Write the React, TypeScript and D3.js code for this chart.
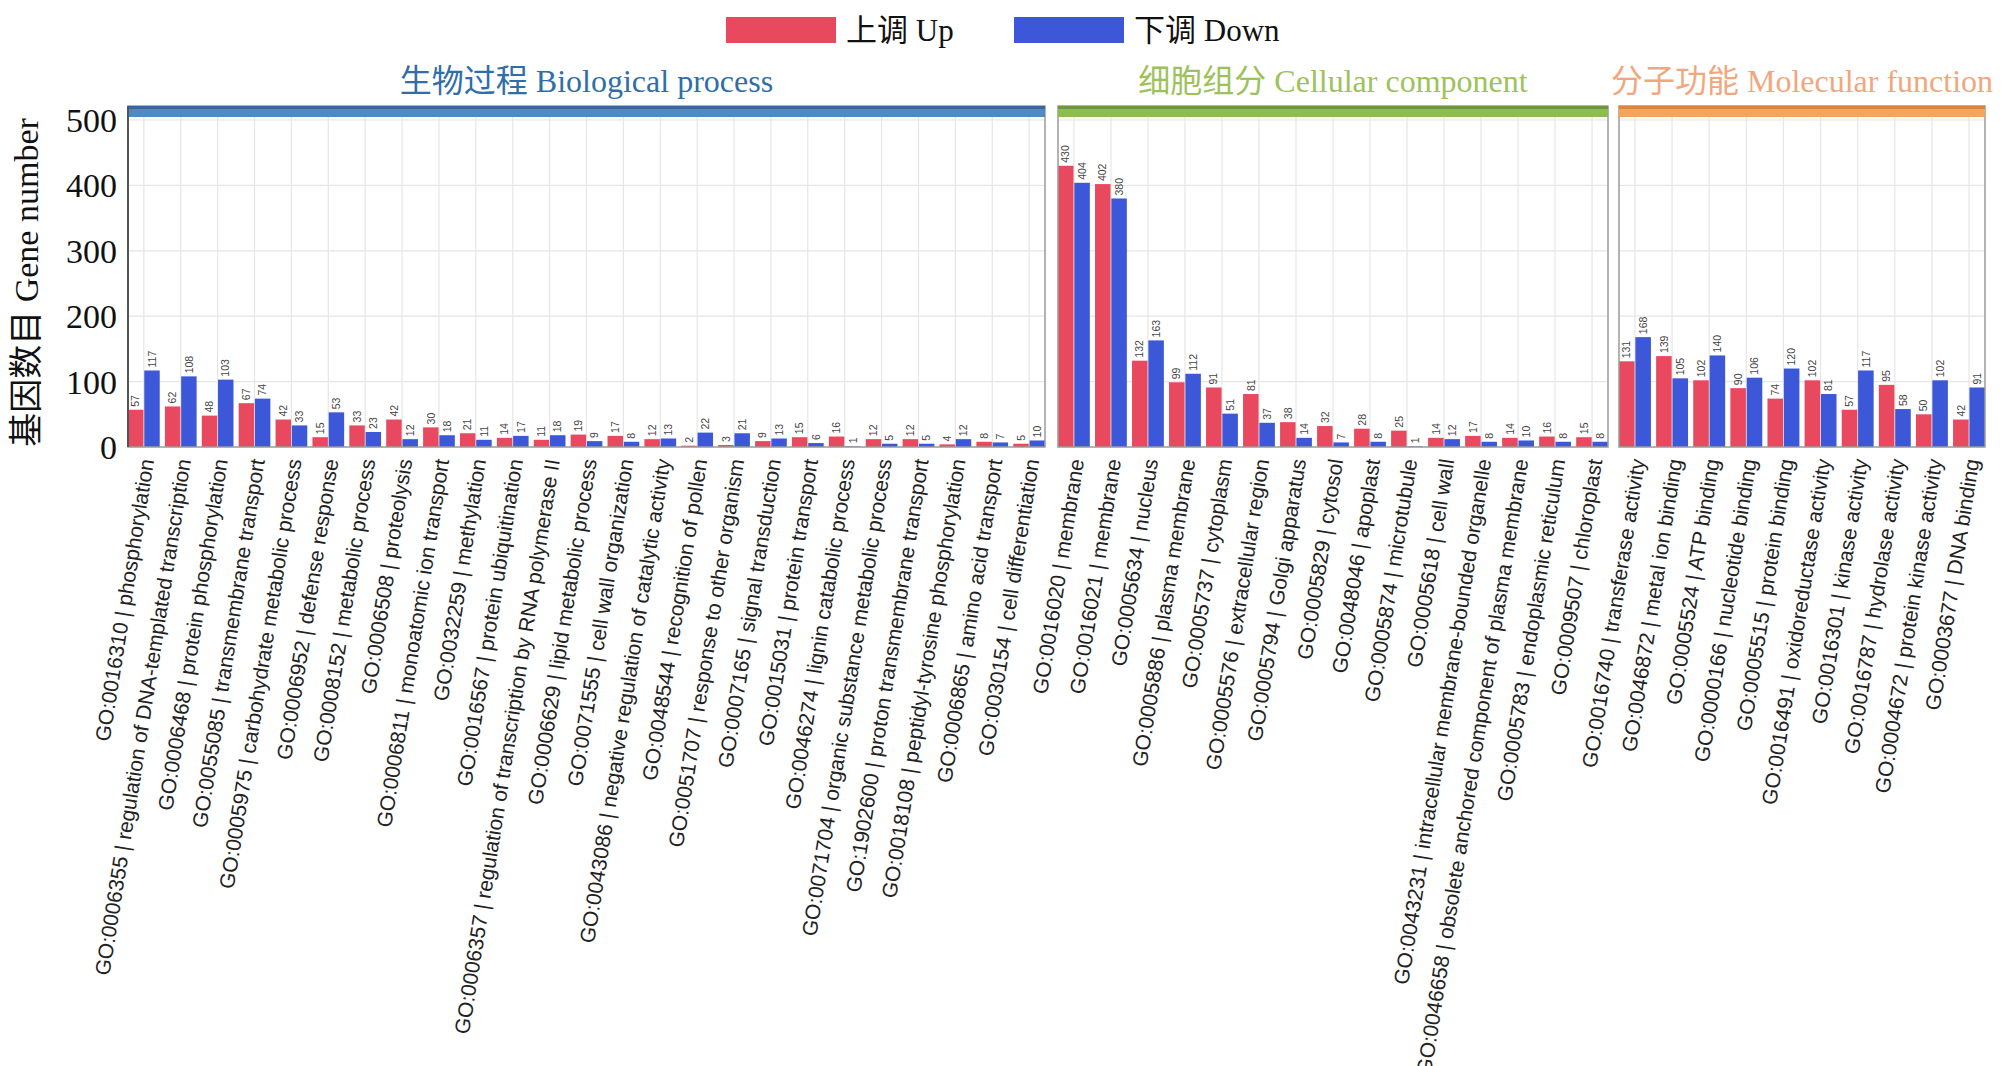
import * as d3 from "d3";

// ---- data ----
const bpTerms = [
  "GO:0016310 | phosphorylation",
  "GO:0006355 | regulation of DNA-templated transcription",
  "GO:0006468 | protein phosphorylation",
  "GO:0055085 | transmembrane transport",
  "GO:0005975 | carbohydrate metabolic process",
  "GO:0006952 | defense response",
  "GO:0008152 | metabolic process",
  "GO:0006508 | proteolysis",
  "GO:0006811 | monoatomic ion transport",
  "GO:0032259 | methylation",
  "GO:0016567 | protein ubiquitination",
  "GO:0006357 | regulation of transcription by RNA polymerase II",
  "GO:0006629 | lipid metabolic process",
  "GO:0071555 | cell wall organization",
  "GO:0043086 | negative regulation of catalytic activity",
  "GO:0048544 | recognition of pollen",
  "GO:0051707 | response to other organism",
  "GO:0007165 | signal transduction",
  "GO:0015031 | protein transport",
  "GO:0046274 | lignin catabolic process",
  "GO:0071704 | organic substance metabolic process",
  "GO:1902600 | proton transmembrane transport",
  "GO:0018108 | peptidyl-tyrosine phosphorylation",
  "GO:0006865 | amino acid transport",
  "GO:0030154 | cell differentiation",
];
const bpUp = [57, 62, 48, 67, 42, 15, 33, 42, 30, 21, 14, 11, 19, 17, 12, 2, 3, 9, 15, 16, 12, 12, 4, 8, 5];
const bpDown = [117, 108, 103, 74, 33, 53, 23, 12, 18, 11, 17, 18, 9, 8, 13, 22, 21, 13, 6, 1, 5, 5, 12, 7, 10];

const ccTerms = [
  "GO:0016020 | membrane",
  "GO:0016021 | membrane",
  "GO:0005634 | nucleus",
  "GO:0005886 | plasma membrane",
  "GO:0005737 | cytoplasm",
  "GO:0005576 | extracellular region",
  "GO:0005794 | Golgi apparatus",
  "GO:0005829 | cytosol",
  "GO:0048046 | apoplast",
  "GO:0005874 | microtubule",
  "GO:0005618 | cell wall",
  "GO:0043231 | intracellular membrane-bounded organelle",
  "GO:0046658 | obsolete anchored component of plasma membrane",
  "GO:0005783 | endoplasmic reticulum",
  "GO:0009507 | chloroplast",
];
const ccUp = [430, 402, 132, 99, 91, 81, 38, 32, 28, 25, 14, 17, 14, 16, 15];
const ccDown = [404, 380, 163, 112, 51, 37, 14, 7, 8, 1, 12, 8, 10, 8, 8];

const mfTerms = [
  "GO:0016740 | transferase activity",
  "GO:0046872 | metal ion binding",
  "GO:0005524 | ATP binding",
  "GO:0000166 | nucleotide binding",
  "GO:0005515 | protein binding",
  "GO:0016491 | oxidoreductase activity",
  "GO:0016301 | kinase activity",
  "GO:0016787 | hydrolase activity",
  "GO:0004672 | protein kinase activity",
  "GO:0003677 | DNA binding",
];
const mfUp = [131, 139, 102, 90, 74, 102, 57, 95, 50, 42];
const mfDown = [168, 105, 140, 106, 120, 81, 117, 58, 102, 91];

const yTicks = [0, 100, 200, 300, 400, 500];
const seriesKeys = ["up", "down"];
const legendLabels = ["上调 Up", "下调 Down"];

// ---- layout / style ----
const W = 2004;
const H = 1066;
const baseY = 447;
const topY = 120;
const bandTop = 106;
const bandH = 11;
const upColor = "#e8495f";
const downColor = "#3c57d8";
const serif = "'Liberation Serif', 'Times New Roman', 'Noto Sans CJK SC', serif";
const sans = "'Liberation Sans', Arial, sans-serif";

const panels = [
  { key: "bp", title: "生物过程 Biological process", titleColor: "#2f6ea8", band: "#5089c4", bandDark: "#36689e", x0: 128, x1: 1045, terms: bpTerms, up: bpUp, down: bpDown },
  { key: "cc", title: "细胞组分 Cellular component", titleColor: "#9dc25b", band: "#8dbd51", bandDark: "#6c983a", x0: 1058, x1: 1608, terms: ccTerms, up: ccUp, down: ccDown },
  { key: "mf", title: "分子功能 Molecular function", titleColor: "#f1a77d", band: "#f3a45f", bandDark: "#d7853f", x0: 1619, x1: 1985, terms: mfTerms, up: mfUp, down: mfDown },
];

const y = d3.scaleLinear().domain([0, 500]).range([baseY, topY]);

function Panel({ p }: { p: (typeof panels)[number] }) {
  const x = d3.scaleBand<string>().domain(p.terms).range([p.x0, p.x1]).paddingInner(0.14).paddingOuter(0);
  const bw = x.bandwidth();
  const sub = d3.scaleBand<string>().domain(seriesKeys).range([0, bw]).paddingInner(0.05);
  const rows = p.terms.map((t, i) => ({ term: t, up: p.up[i], down: p.down[i] }));
  const cx = (p.x0 + p.x1) / 2;

  return (
    <g>
      {/* horizontal grid */}
      {yTicks.slice(1).map((t) => (
        <line key={t} x1={p.x0} x2={p.x1} y1={y(t)} y2={y(t)} stroke="#e6e6e6" strokeWidth={1.2} />
      ))}
      {/* vertical grid at category centres */}
      {rows.map((r) => (
        <line
          key={r.term}
          x1={x(r.term)! + bw / 2}
          x2={x(r.term)! + bw / 2}
          y1={bandTop + bandH}
          y2={baseY}
          stroke="#e6e6e6"
          strokeWidth={1.2}
        />
      ))}
      {/* bars + value labels */}
      {rows.map((r) =>
        seriesKeys.map((k) => {
          const v = k === "up" ? r.up : r.down;
          const bx = x(r.term)! + sub(k)!;
          const by = y(v);
          return (
            <g key={r.term + k}>
              <rect
                x={bx}
                y={by}
                width={sub.bandwidth()}
                height={baseY - by}
                fill={k === "up" ? upColor : downColor}
              />
              <text
                transform={`translate(${bx + sub.bandwidth() / 2},${by - 3}) rotate(-90)`}
                dy="0.35em"
                fontFamily={sans}
                fontSize={10.5}
                fill="#444"
              >
                {v}
              </text>
            </g>
          );
        })
      )}
      {/* frame */}
      <rect x={p.x0} y={bandTop} width={p.x1 - p.x0} height={baseY - bandTop} fill="none" stroke="#9b9b9b" strokeWidth={1.5} />
      {/* header band */}
      <rect x={p.x0} y={bandTop} width={p.x1 - p.x0} height={bandH} fill={p.band} />
      <rect x={p.x0} y={bandTop} width={p.x1 - p.x0} height={3} fill={p.bandDark} />
      {/* category labels */}
      {rows.map((r) => (
        <text
          key={r.term}
          transform={`translate(${x(r.term)! + bw / 2 + 3},${baseY + 12}) rotate(-81)`}
          textAnchor="end"
          dy="0.35em"
          fontFamily={sans}
          fontSize={21}
          fill="#222"
        >
          {r.term}
        </text>
      ))}
      {/* panel title */}
      <text x={cx} y={92} textAnchor="middle" fontFamily={serif} fontSize={32} fill={p.titleColor}>
        {p.title}
      </text>
    </g>
  );
}

export default function App() {
  const legendX = [726, 1014];
  return (
    <svg
      width={W}
      height={H}
      viewBox={`0 0 ${W} ${H}`}
      style={{ position: "absolute", left: 0, top: 0, background: "#fff", display: "block" }}
    >
      <rect width={W} height={H} fill="#fff" />

      {/* legend */}
      {legendLabels.map((lab, i) => (
        <g key={lab} transform={`translate(${legendX[i]},17)`}>
          <rect width={110} height={26} fill={i === 0 ? upColor : downColor} />
          <text x={120} y={24} fontFamily={serif} fontSize={31} fill="#111">
            {lab}
          </text>
        </g>
      ))}

      {panels.map((p) => (
        <Panel key={p.key} p={p} />
      ))}

      {/* y axis */}
      <line x1={128} x2={128} y1={bandTop} y2={baseY} stroke="#555" strokeWidth={2} />
      {yTicks.map((t) => (
        <text key={t} x={117} y={y(t)} dy="0.35em" textAnchor="end" fontFamily={serif} fontSize={34} fill="#111">
          {t}
        </text>
      ))}
      <text
        transform={`translate(26,${(bandTop + baseY) / 2 + 6}) rotate(-90)`}
        textAnchor="middle"
        dy="0.35em"
        fontFamily={serif}
        fontSize={34}
        fill="#111"
      >
        基因数目 Gene number
      </text>
    </svg>
  );
}
